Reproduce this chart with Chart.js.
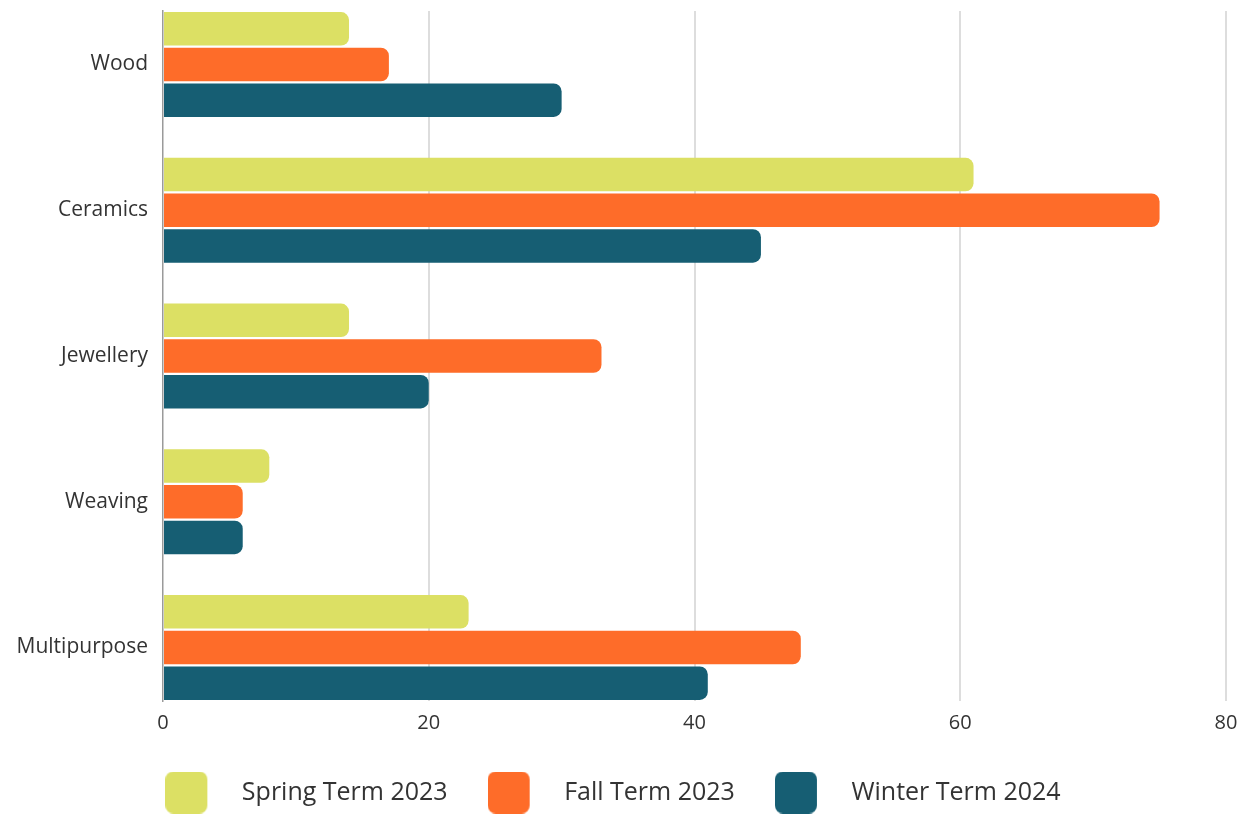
<!DOCTYPE html>
<html>
<head>
<meta charset="utf-8">
<script src="https://cdn.jsdelivr.net/npm/chart.js@4.4.1/dist/chart.umd.min.js"></script>
<style>
	html, body { margin: 0; padding: 0; background: #fff; }
	#wrap { width: 1248px; height: 815px; }
</style>
</head>
<body>
<div id="wrap"><canvas id="studioChart"></canvas></div>
<script>
const categories = ['Wood', 'Ceramics', 'Jewellery', 'Weaving', 'Multipurpose'];
const seriesNames = ['Spring Term 2023', 'Fall Term 2023', 'Winter Term 2024'];
const springTerm = [14, 61, 14, 8, 23];
const fallTerm = [17, 75, 33, 6, 48];
const winterTerm = [30, 45, 20, 6, 41];
const xTicks = [0, 20, 40, 60, 80];

const colors = ['#dce064', '#fe6c29', '#165e73'];
const fontFamily = "'Open Sans', 'Noto Sans', sans-serif";
const textColor = '#333333';

// legend swatch: rounded square with empty space on the right (text gap)
function swatch(color) {
	const c = document.createElement('canvas');
	c.width = 64;
	c.height = 42;
	const g = c.getContext('2d');
	g.fillStyle = color;
	g.beginPath();
	g.roundRect(0, 0, 42, 42, 8);
	g.fill();
	return c;
}
const swatches = colors.map(swatch);

function toPoints(values) {
	return values.map(function(v, i) { return { x: v, y: i }; });
}

const datasets = [springTerm, fallTerm, winterTerm].map(function(values, i) {
	return {
		label: seriesNames[i],
		data: toPoints(values),
		backgroundColor: colors[i],
		borderWidth: 0,
		borderRadius: 8,
		borderSkipped: 'start',
		categoryPercentage: 0.734,
		barPercentage: 0.94
	};
});

new Chart(document.getElementById('studioChart').getContext('2d'), {
	type: 'bar',
	data: { datasets: datasets },
	options: {
		indexAxis: 'y',
		responsive: true,
		maintainAspectRatio: false,
		animation: false,
		layout: { padding: { top: 11, right: 22, left: 0, bottom: 0 } },
		scales: {
			x: {
				type: 'linear',
				min: xTicks[0],
				max: xTicks[xTicks.length - 1],
				afterBuildTicks: function(scale) {
					scale.ticks = xTicks.map(function(v) { return { value: v }; });
				},
				afterFit: function(scale) { scale.height = 39; },
				border: { display: false },
				grid: {
					drawTicks: false,
					lineWidth: 2,
					color: function(ctx) {
						return ctx.tick && ctx.tick.value === 0 ? 'rgba(0,0,0,0)' : '#dddddd';
					}
				},
				ticks: {
					padding: 10,
					color: textColor,
					font: { family: fontFamily, size: 20 }
				}
			},
			y: {
				type: 'linear',
				reverse: true,
				offset: false,
				bounds: 'data',
				min: -0.367,
				max: categories.length - 1 + 0.367,
				afterBuildTicks: function(scale) {
					scale.ticks = categories.map(function(c, i) { return { value: i }; });
				},
				afterFit: function(scale) {
					scale.width = 163;
					scale.paddingTop = 0;
					scale.paddingBottom = 0;
				},
				border: { display: true, color: '#9a9a9a', width: 1.5 },
				grid: { display: false, drawTicks: false },
				ticks: {
					autoSkip: false,
					padding: 15,
					color: textColor,
					font: { family: fontFamily, size: 21 },
					callback: function(value) { return categories[value]; }
				}
			}
		},
		plugins: {
			tooltip: { enabled: false },
			legend: {
				position: 'bottom',
				labels: {
					usePointStyle: true,
					pointStyleWidth: 64,
					padding: 40,
					color: textColor,
					font: { family: fontFamily, size: 25 },
					generateLabels: function(chart) {
						const items = Chart.defaults.plugins.legend.labels.generateLabels(chart);
						items.forEach(function(item, i) { item.pointStyle = swatches[i]; });
						return items;
					}
				}
			}
		}
	}
});
</script>
</body>
</html>
